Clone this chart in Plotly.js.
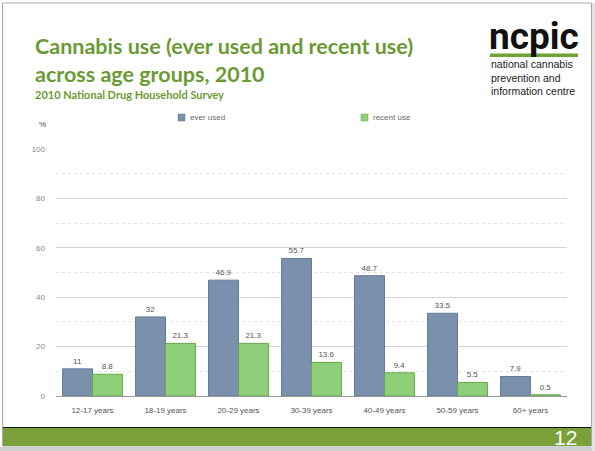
<!DOCTYPE html>
<html>
<head>
<meta charset="utf-8">
<script src="https://cdn.plot.ly/plotly-3.0.1.min.js"></script>
<style>html,body{margin:0;padding:0;background:#fff;}#chart{width:595px;height:451px;}</style>
</head>
<body>
<div id="chart"></div>
<script>
const categories = ["12-17 years", "18-19 years", "20-29 years", "30-39 years", "40-49 years", "50-59 years", "60+ years"];
const everUsed = [11, 32, 46.9, 55.7, 48.7, 33.5, 7.9];
const recentUse = [8.8, 21.3, 21.3, 13.6, 9.4, 5.5, 0.5];
const seriesNames = ["ever used", "recent use"];
const yTicks = [0, 20, 40, 60, 80, 100];

const W = 595, H = 451;
const L = 56, R = 567, T = 149, B = 396;
const px = x => (x - L) / (R - L);
const py = y => (B - y) / (B - T);

const labelFont = {family: "Liberation Sans, Arial, sans-serif", size: 8, color: "#555"};
const fills = ["#7a90ad", "#8fcf79"];
const edges = ["#62799a", "#64a84c"];

const traces = [
  {type: "bar", name: seriesNames[0], x: categories, y: everUsed,
   text: everUsed.map(String), textposition: "outside", textfont: labelFont, cliponaxis: false,
   marker: {color: fills[0], line: {color: edges[0], width: 1}}, hoverinfo: "x+y"},
  {type: "bar", name: seriesNames[1], x: categories, y: recentUse,
   text: recentUse.map(String), textposition: "outside", textfont: labelFont, cliponaxis: false,
   marker: {color: fills[1], line: {color: edges[1], width: 1}}, hoverinfo: "x+y"}
];

const green = "#6b9a35";
const legendX = [178, 361];
const legendShapes = seriesNames.map((n, i) => ({
  type: "rect", xref: "paper", yref: "paper",
  x0: px(legendX[i]), x1: px(legendX[i] + 7), y0: py(121), y1: py(114),
  fillcolor: fills[i], line: {color: edges[i], width: 0.5}
}));
const legendLabels = seriesNames.map((n, i) => ({
  text: n, xref: "paper", yref: "paper", x: px(legendX[i] + 10), y: py(117.5),
  xanchor: "left", yanchor: "middle", showarrow: false,
  font: {family: "Liberation Sans, Arial, sans-serif", size: 8, color: "#666"}
}));

const layout = {
  width: W, height: H,
  margin: {l: L, r: W - R, t: T, b: H - B, pad: 0},
  paper_bgcolor: "#fff", plot_bgcolor: "#fff",
  barmode: "group", bargap: 0.18, bargroupgap: 0,
  showlegend: false,
  xaxis: {type: "category", showgrid: false, showline: true, linecolor: "#999", linewidth: 1,
          ticks: "outside", ticklen: 6, tickcolor: "rgba(0,0,0,0)",
          tickfont: labelFont, fixedrange: true},
  yaxis: {range: [0, 100], tickvals: yTicks, ticktext: yTicks.map(String),
          showgrid: true, gridcolor: "#d4d4d4", gridwidth: 1,
          zeroline: false, showline: false, ticks: "", ticklabelstandoff: 10,
          tickfont: {family: "Liberation Sans, Arial, sans-serif", size: 8, color: "#888"},
          minor: {dtick: 10, showgrid: true, gridcolor: "#e2e2e2", griddash: "dot", gridwidth: 1},
          fixedrange: true},
  font: {family: "Liberation Sans, Arial, sans-serif"},
  shapes: [
    {type: "rect", xref: "paper", yref: "paper", x0: px(2.5), x1: px(591.5), y0: py(446), y1: py(3), line: {color: "#a8a8a8", width: 1}, fillcolor: "rgba(0,0,0,0)", layer: "below"},
    {type: "rect", xref: "paper", yref: "paper", x0: px(0), x1: px(595), y0: py(451), y1: py(447), line: {width: 0}, fillcolor: "#cfcfcf", layer: "below"},
    {type: "rect", xref: "paper", yref: "paper", x0: px(592), x1: px(595), y0: py(451), y1: py(3), line: {width: 0}, fillcolor: "#e4e4e4", layer: "below"},
    {type: "rect", xref: "paper", yref: "paper", x0: px(3), x1: px(591), y0: py(446), y1: py(428), line: {width: 0}, fillcolor: "#7aa03a", layer: "below"},
    {type: "line", xref: "paper", yref: "paper", x0: px(3), x1: px(591), y0: py(427.5), y1: py(427.5), line: {color: "#111", width: 1.2}},
    {type: "rect", xref: "paper", yref: "paper", x0: px(490), x1: px(578), y0: py(57), y1: py(53.5), line: {width: 0}, fillcolor: "#6fa336", layer: "below"}
  ].concat(legendShapes),
  annotations: [
    {text: "<b>Cannabis use (ever used and recent use)</b>", xref: "paper", yref: "paper", x: px(33), y: py(46), xanchor: "left", yanchor: "middle", showarrow: false,
     font: {family: "Lato, Open Sans, sans-serif", size: 21.5, color: green}},
    {text: "<b>across age groups, 2010</b>", xref: "paper", yref: "paper", x: px(33), y: py(74), xanchor: "left", yanchor: "middle", showarrow: false,
     font: {family: "Lato, Open Sans, sans-serif", size: 21.5, color: green}},
    {text: "<b>2010 National Drug Household Survey</b>", xref: "paper", yref: "paper", x: px(33), y: py(94), xanchor: "left", yanchor: "middle", showarrow: false,
     font: {family: "Lato, Open Sans, sans-serif", size: 11, color: green}},
    {text: "<b>ncpic</b>", xref: "paper", yref: "paper", x: px(487), y: py(36), xanchor: "left", yanchor: "middle", showarrow: false,
     font: {family: "Roboto, Liberation Sans, sans-serif", size: 37, color: "#111"}},
    {text: "national cannabis<br>prevention and<br>information centre", xref: "paper", yref: "paper", x: px(489), y: py(77.5), xanchor: "left", yanchor: "middle", align: "left", showarrow: false,
     font: {family: "Liberation Sans, Arial, sans-serif", size: 10.5, color: "#222"}},
    {text: "%", xref: "paper", yref: "paper", x: px(42), y: py(124), xanchor: "center", yanchor: "middle", showarrow: false,
     font: {family: "Liberation Sans, Arial, sans-serif", size: 8, color: "#444"}},
    {text: "12", xref: "paper", yref: "paper", x: px(579), y: py(437), xanchor: "right", yanchor: "middle", showarrow: false,
     font: {family: "Liberation Sans, Arial, sans-serif", size: 21, color: "#fff"}}
  ].concat(legendLabels)
};

Plotly.newPlot("chart", traces, layout, {displayModeBar: false, staticPlot: true});
</script>
</body>
</html>
